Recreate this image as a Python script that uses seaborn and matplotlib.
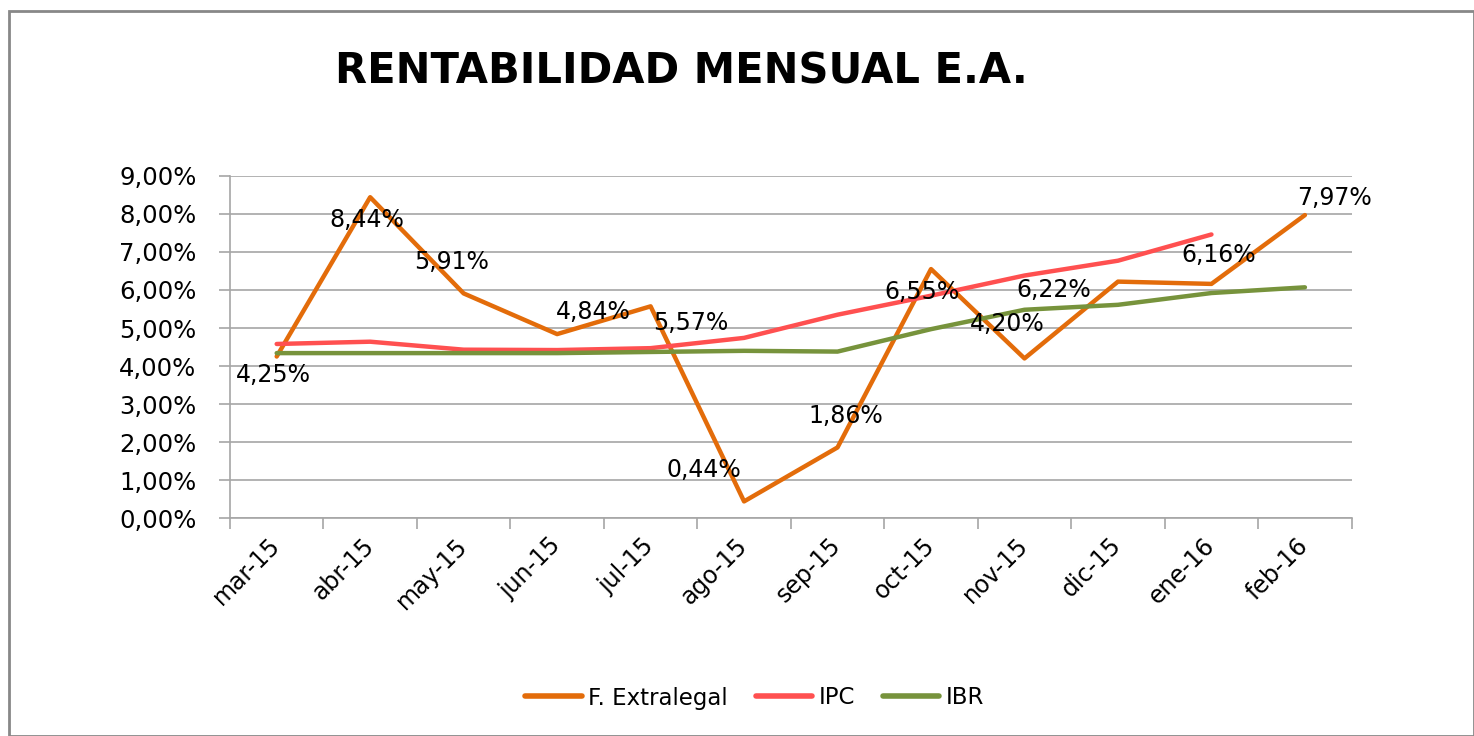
import numpy as np
import pandas as pd
import matplotlib
matplotlib.use("Agg")
import matplotlib.pyplot as plt
import seaborn as sns
from matplotlib.ticker import FuncFormatter

# data
months = ["mar-15", "abr-15", "may-15", "jun-15", "jul-15", "ago-15",
          "sep-15", "oct-15", "nov-15", "dic-15", "ene-16", "feb-16"]
extralegal = [4.25, 8.44, 5.91, 4.84, 5.57, 0.44, 1.86, 6.55, 4.20, 6.22, 6.16, 7.97]
ipc = [4.58, 4.64, 4.43, 4.42, 4.47, 4.74, 5.35, 5.85, 6.38, 6.77, 7.46, np.nan]
ibr = [4.34, 4.34, 4.34, 4.34, 4.37, 4.40, 4.38, 4.97, 5.48, 5.61, 5.92, 6.07]

series_names = ["F. Extralegal", "IPC", "IBR"]
colors = ["#E36C0A", "#FF5050", "#77933C"]

# label offsets (pixels) relative to each orange point
label_offsets = [(-3, -18), (-3, -23), (-12, 31), (36, 22), (40, -17), (-40, 31),
                 (8, 31), (-9, -23), (-17, 34), (-64, -8), (7, 29), (30, 17)]

df = pd.DataFrame({"mes": months, "F. Extralegal": extralegal, "IPC": ipc, "IBR": ibr})
long_df = df.melt(id_vars="mes", var_name="serie", value_name="valor")

sns.set_style("white")
plt.rcParams["font.family"] = ["DejaVu Sans"]
plt.rcParams["text.color"] = "black"
plt.rcParams["xtick.color"] = "black"
plt.rcParams["ytick.color"] = "black"

fig = plt.figure(figsize=(14.74, 7.36), dpi=100)
ax = fig.add_axes([0.156, 0.296, 0.761, 0.465])

sns.lineplot(data=long_df, x="mes", y="valor", hue="serie", hue_order=series_names,
             palette=colors, linewidth=3.2, sort=False, ax=ax, legend=True)

ax.set_xlim(-0.5, len(months) - 0.5)
ax.set_ylim(0, 9)
ax.set_yticks(np.arange(0, 10, 1))
ax.yaxis.set_major_formatter(FuncFormatter(lambda v, p: f"{v:.2f}%".replace(".", ",")))
ax.yaxis.grid(True, color="#A6A6A6", linewidth=1.2)
ax.set_axisbelow(True)

# category ticks sit between categories, labels centered
ax.set_xticks(np.arange(-0.5, len(months), 1), minor=False)
ax.set_xticklabels([])
ax.set_xticks(np.arange(len(months)), minor=True)
ax.set_xticklabels(months, minor=True, rotation=45, ha="right", va="center",
                   rotation_mode="anchor", fontsize=17)
ax.tick_params(axis="x", which="minor", length=0, pad=17)
ax.tick_params(axis="x", which="major", length=8, width=1.2, color="#A6A6A6", direction="out")
ax.tick_params(axis="y", length=8, width=1.2, color="#A6A6A6", direction="out",
               labelsize=17.5, pad=16, labelcolor="black")
ax.tick_params(bottom=True, left=True)
ax.set_xlabel("")
ax.set_ylabel("")

for side in ["top", "right"]:
    ax.spines[side].set_visible(False)
for side in ["left", "bottom"]:
    ax.spines[side].set_color("#A6A6A6")
    ax.spines[side].set_linewidth(1.2)

for i, (v, off) in enumerate(zip(extralegal, label_offsets)):
    ax.annotate(f"{v:.2f}%".replace(".", ","), xy=(i, v),
                xytext=(off[0] * 0.72, off[1] * 0.72), textcoords="offset points",
                ha="center", va="center", fontsize=17, color="black")

ax.legend(loc="center", ncol=3, frameon=False, fontsize=16.5,
          handlelength=2.45, columnspacing=1.2, handletextpad=0.3,
          bbox_to_anchor=(0.512, 38 / 736), bbox_transform=fig.transFigure)
for line in ax.get_legend().get_lines():
    line.set_linewidth(4)

fig.text(0.462, 0.903, "RENTABILIDAD MENSUAL E.A.", ha="center", va="center",
         fontsize=30, fontweight="bold", color="black")

# outer frame like the spreadsheet chart box
frame = plt.Rectangle((9 / 1474, 0), 1 - 9 / 1474, 1 - 11 / 736, transform=fig.transFigure,
                      fill=False, edgecolor="#888888", linewidth=2)
fig.patches.append(frame)

fig.savefig("out.png", dpi=100, facecolor="white")
